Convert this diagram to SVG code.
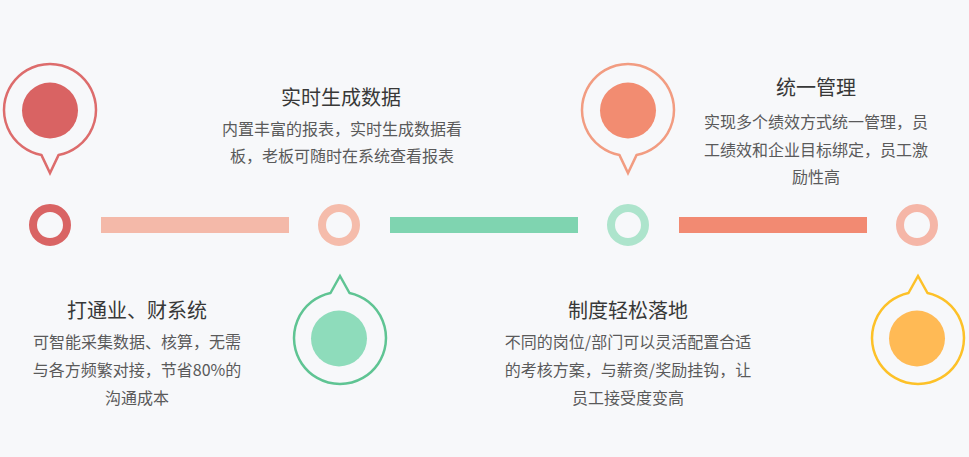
<svg xmlns="http://www.w3.org/2000/svg" width="969" height="457" viewBox="0 0 969 457">
<style>
.bg{fill:#f7f8fa}
.pin{fill:#f7f8fa;stroke-width:2.5;stroke-linejoin:miter}
.ring{fill:none;stroke-width:8}
.t{font-family:"Noto Sans CJK SC","Noto Sans",sans-serif;font-size:20px;fill:#383838;text-anchor:middle}
.b{font-family:"Noto Sans CJK SC","Noto Sans",sans-serif;font-size:16px;fill:#5a5a5a;text-anchor:middle}
</style>
<rect class="bg" x="0" y="0" width="969" height="457"/>
<g id="connectors">
<rect x="101" y="217" width="188" height="16" fill="#f4b9a9"/>
<rect x="390" y="217" width="188" height="16" fill="#7fd4b0"/>
<rect x="679" y="217" width="188" height="16" fill="#f28a72"/>
</g>
<g id="ring1"><circle class="ring" cx="50" cy="225" r="17" stroke="#d96464"/></g>
<g id="ring2"><circle class="ring" cx="339" cy="225" r="17" stroke="#f5bcab"/></g>
<g id="ring3"><circle class="ring" cx="628" cy="225" r="17" stroke="#ade4cc"/></g>
<g id="ring4"><circle class="ring" cx="917" cy="225" r="17" stroke="#f5b6a7"/></g>
<g id="pin1">
<path class="pin" stroke="#dd6c6c" d="M41.5 155.1 A46 46 0 1 1 58.5 155.1 L50 173 Z"/>
<circle cx="50" cy="110.5" r="28" fill="#d96363"/>
</g>
<g id="pin2">
<path class="pin" stroke="#5fc493" d="M349.5 293 A46 46 0 1 1 330.5 293 L340 276 Z"/>
<circle cx="339" cy="338.5" r="28" fill="#8edcbb"/>
</g>
<g id="pin3">
<path class="pin" stroke="#f29c81" d="M619.5 155.1 A46 46 0 1 1 636.5 155.1 L628 173 Z"/>
<circle cx="628" cy="110.5" r="28" fill="#f28c71"/>
</g>
<g id="pin4">
<path class="pin" stroke="#fdc128" d="M927.5 293 A46 46 0 1 1 908.5 293 L918 276 Z"/>
<circle cx="917" cy="338.5" r="28" fill="#ffba55"/>
</g>
<g id="text1">
<text class="t" x="341" y="104.5">实时生成数据</text>
<text class="b" x="342" y="135">内置丰富的报表，实时生成数据看</text>
<text class="b" x="342" y="162">板，老板可随时在系统查看报表</text>
</g>
<g id="text2">
<text class="t" x="816" y="95">统一管理</text>
<text class="b" x="816" y="128">实现多个绩效方式统一管理，员</text>
<text class="b" x="816" y="156">工绩效和企业目标绑定，员工激</text>
<text class="b" x="816" y="183">励性高</text>
</g>
<g id="text3">
<text class="t" x="137" y="317.5">打通业、财系统</text>
<text class="b" x="137" y="348">可智能采集数据、核算，无需</text>
<text class="b" x="137" y="376">与各方频繁对接，节省80%的</text>
<text class="b" x="137" y="404">沟通成本</text>
</g>
<g id="text4">
<text class="t" x="628" y="317.5">制度轻松落地</text>
<text class="b" x="628" y="348">不同的岗位/部门可以灵活配置合适</text>
<text class="b" x="628" y="376">的考核方案，与薪资/奖励挂钩，让</text>
<text class="b" x="628" y="404">员工接受度变高</text>
</g>
</svg>
